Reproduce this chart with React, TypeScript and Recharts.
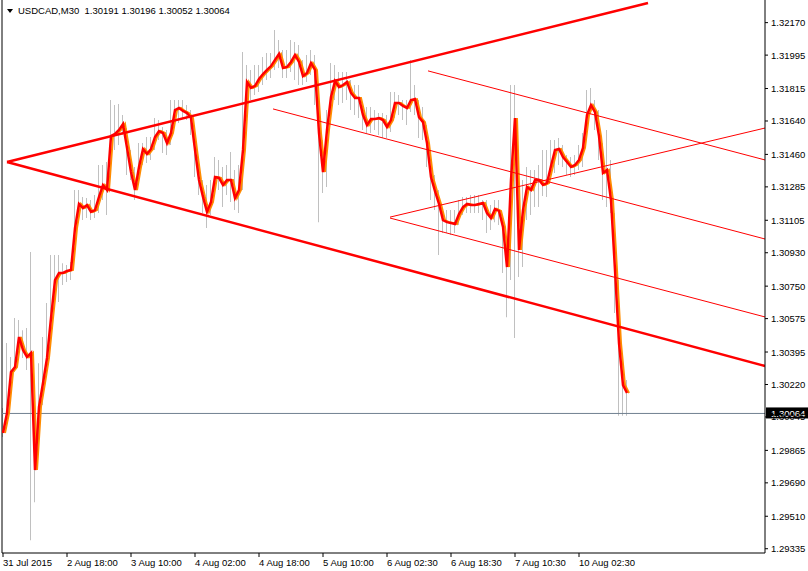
import React from "react";
import { Bar, ComposedChart, Line, ReferenceLine, XAxis, YAxis } from "recharts";

// one sample per hour (every second M30 bar)
const HOUR_TICKS = [0, 16, 32, 48, 64, 80, 96, 112, 128, 144];
const HOUR_LABELS = [
  "31 Jul 2015",
  "2 Aug 18:00",
  "3 Aug 10:00",
  "4 Aug 02:00",
  "4 Aug 18:00",
  "5 Aug 10:00",
  "6 Aug 02:30",
  "6 Aug 18:30",
  "7 Aug 10:30",
  "10 Aug 02:30",
];

const PRICE_TICKS = [
  1.3217, 1.31995, 1.31815, 1.3164, 1.3146, 1.31285, 1.31105, 1.3093, 1.3075,
  1.30575, 1.30395, 1.3022, 1.30045, 1.29865, 1.2969, 1.2951, 1.29335,
];

const CLOSE = [
  1.29959, 1.30066, 1.30287, 1.30314, 1.30476, 1.30406, 1.30368, 1.3039, 1.29759, 1.30099,
  1.30228, 1.30363, 1.30578, 1.30783, 1.30821, 1.30821, 1.30832, 1.30837, 1.31063, 1.31193,
  1.31171, 1.31187, 1.3115, 1.3116, 1.31231, 1.31295, 1.31268, 1.31559, 1.3157, 1.31592,
  1.31624, 1.31495, 1.31365, 1.31268, 1.31392, 1.31489, 1.31462, 1.31489, 1.31554, 1.31586,
  1.31575, 1.31521, 1.31575, 1.31699, 1.3171, 1.31694, 1.31683, 1.31656, 1.31484, 1.31322,
  1.31231, 1.3115, 1.31203, 1.31338, 1.31333, 1.31295, 1.31322, 1.31322, 1.31225, 1.31268,
  1.31484, 1.3185, 1.31818, 1.31829, 1.31866, 1.31893, 1.31915, 1.31936, 1.31969, 1.32001,
  1.31926, 1.31931, 1.31958, 1.31996, 1.31958, 1.31882, 1.31899, 1.31952, 1.31915, 1.31575,
  1.31365, 1.31592, 1.31769, 1.31855, 1.31823, 1.31834, 1.3185, 1.31791, 1.31764, 1.31764,
  1.31672, 1.31618, 1.31651, 1.31651, 1.31656, 1.31645, 1.31608, 1.31645, 1.31737, 1.31737,
  1.31721, 1.3171, 1.31753, 1.31758, 1.31661, 1.31634, 1.31521, 1.31338, 1.31262, 1.31193,
  1.31106, 1.31095, 1.3109, 1.31085, 1.31139, 1.31176, 1.31193, 1.31187, 1.31187, 1.31193,
  1.31198, 1.31144, 1.31117, 1.31166, 1.31155, 1.31069, 1.30853, 1.31322, 1.31656, 1.30945,
  1.3116, 1.31284, 1.31268, 1.31322, 1.31322, 1.31295, 1.31306, 1.31397, 1.31484, 1.31489,
  1.31446, 1.31419, 1.31392, 1.31403, 1.3143, 1.31495, 1.31672, 1.31726, 1.31688, 1.31559,
  1.3136, 1.31376, 1.31214, 1.30837, 1.30443, 1.30217, 1.30174,
];

const HIGH = [
  1.30093, 1.30443, 1.30368, 1.30578, 1.30567, 1.30513, 1.30524, 1.30934, 1.30228, 1.30335,
  1.30476, 1.30659, 1.30918, 1.30918, 1.30918, 1.30874, 1.30864, 1.3088, 1.31268, 1.31268,
  1.31231, 1.31225, 1.31214, 1.31241, 1.31403, 1.31403, 1.31419, 1.31753, 1.31726, 1.31731,
  1.31672, 1.31602, 1.31484, 1.31392, 1.31521, 1.31521, 1.31554, 1.31554, 1.31656, 1.31645,
  1.31608, 1.31592, 1.31753, 1.31753, 1.31753, 1.31753, 1.31726, 1.31699, 1.31592, 1.3143,
  1.31322, 1.31295, 1.31322, 1.31446, 1.3143, 1.31392, 1.31403, 1.31473, 1.31376, 1.31403,
  1.32012, 1.31942, 1.31915, 1.31942, 1.31942, 1.31985, 1.32006, 1.32006, 1.3213, 1.32076,
  1.32023, 1.32023, 1.32076, 1.32066, 1.32049, 1.31969, 1.31996, 1.32023, 1.31996, 1.31823,
  1.31537, 1.31699, 1.31952, 1.31942, 1.31904, 1.31904, 1.31904, 1.31861, 1.31834, 1.31834,
  1.31726, 1.31715, 1.31715, 1.31699, 1.31683, 1.31683, 1.31672, 1.31796, 1.31796, 1.3178,
  1.31753, 1.31753, 1.31969, 1.31834, 1.31753, 1.31715, 1.31618, 1.31392, 1.31349, 1.31268,
  1.3116, 1.3116, 1.3116, 1.3116, 1.31214, 1.31231, 1.31231, 1.31241, 1.31241, 1.31241,
  1.31214, 1.31214, 1.31187, 1.31214, 1.31214, 1.31106, 1.30998, 1.31834, 1.31834, 1.31214,
  1.31322, 1.31392, 1.31376, 1.31376, 1.31403, 1.31484, 1.31484, 1.31537, 1.31537, 1.31548,
  1.3151, 1.31457, 1.31446, 1.31457, 1.3151, 1.31575, 1.31807, 1.31818, 1.31753, 1.31699,
  1.31521, 1.31592, 1.3143, 1.31144, 1.30783, 1.30298, 1.30244,
];

const LOW = [
  1.29937, 1.30028, 1.30244, 1.30287, 1.30406, 1.30363, 1.30298, 1.29381, 1.29586, 1.2992,
  1.30109, 1.30325, 1.30513, 1.30675, 1.30664, 1.30756, 1.30772, 1.30783, 1.30971, 1.31133,
  1.31106, 1.31117, 1.31106, 1.31117, 1.31144, 1.31214, 1.31133, 1.3151, 1.31484, 1.3151,
  1.31564, 1.31349, 1.31322, 1.31214, 1.31295, 1.31403, 1.31413, 1.3143, 1.31484, 1.31537,
  1.31467, 1.31457, 1.3151, 1.31629, 1.31629, 1.31656, 1.31645, 1.31564, 1.31338, 1.31241,
  1.31144, 1.31063, 1.31133, 1.31241, 1.31268, 1.31176, 1.31241, 1.31203, 1.3116, 1.31144,
  1.31268, 1.31753, 1.31753, 1.3178, 1.31796, 1.31834, 1.31861, 1.31872, 1.31915, 1.31926,
  1.31872, 1.31872, 1.31904, 1.31861, 1.31834, 1.31834, 1.3185, 1.31888, 1.31726, 1.31095,
  1.31252, 1.31284, 1.31672, 1.31753, 1.31726, 1.31737, 1.31753, 1.31699, 1.31672, 1.31656,
  1.31592, 1.31575, 1.31575, 1.31592, 1.31564, 1.31548, 1.31548, 1.31581, 1.31656, 1.31672,
  1.31645, 1.31618, 1.31688, 1.31672, 1.31548, 1.31537, 1.31392, 1.31214, 1.3116, 1.30918,
  1.31036, 1.31036, 1.31025, 1.31036, 1.31079, 1.31133, 1.31144, 1.31144, 1.31144, 1.31144,
  1.31106, 1.31036, 1.31052, 1.31095, 1.31079, 1.30821, 1.30583, 1.30783, 1.3047, 1.30799,
  1.30853, 1.31106, 1.31133, 1.31176, 1.31176, 1.31236, 1.31231, 1.31322, 1.3136, 1.31403,
  1.31392, 1.31349, 1.31338, 1.31349, 1.31376, 1.31392, 1.31592, 1.31683, 1.31592, 1.3143,
  1.31214, 1.31176, 1.31144, 1.30605, 1.30052, 1.30052, 1.30052,
];

const LAST_PRICE = 1.30064;
const TITLE = "USDCAD,M30  1.30191 1.30196 1.30052 1.30064";

// hand drawn objects: [hour, price] endpoints
const TRENDLINES = [
  { kind: "channel", from: [1, 1.31419], to: [161.25, 1.32276] },
  { kind: "channel", from: [1, 1.31419], to: [190.5, 1.3032] },
  { kind: "fork", from: [106.25, 1.3191], to: [190.5, 1.3143] },
  { kind: "fork", from: [67.5, 1.31705], to: [190.5, 1.31004] },
  { kind: "fork", from: [96.75, 1.31117], to: [190.5, 1.30584] },
  { kind: "fork", from: [96.75, 1.31122], to: [190.5, 1.31602] },
];

const FONT = "'Liberation Sans', Arial, sans-serif";
const FONT_SIZE = 9.5;

const data = CLOSE.map((close, hour) => ({
  hour,
  close,
  range: [LOW[hour], HIGH[hour]],
}));

function TimeTick({ x, y, index }: any) {
  return (
    <text x={x} y={y} dy={9} fontSize={FONT_SIZE} fontFamily={FONT} fill="#000" textAnchor="start">
      {HOUR_LABELS[index]}
    </text>
  );
}

function PriceTick({ x, y, payload }: any) {
  return (
    <text x={x} y={y} dy={3.5} fontSize={FONT_SIZE} fontFamily={FONT} fill="#000" textAnchor="start">
      {payload.value.toFixed(5)}
    </text>
  );
}

function LastPriceLabel({ viewBox }: any) {
  const x = viewBox.x + viewBox.width + 1;
  return (
    <g>
      <rect x={x} y={viewBox.y - 6} width={42} height={11} fill="#000" />
      <text x={x + 5} y={viewBox.y + 3.5} fontSize={FONT_SIZE} fontFamily={FONT} fill="#fff">
        {LAST_PRICE.toFixed(5)}
      </text>
    </g>
  );
}

export default function App() {
  return (
    <div style={{ position: "absolute", left: 0, top: 0, width: 808, height: 571, background: "#fff" }}>
      <style>{`.lag { transform: translate(2px, 0px); }`}</style>
      <ComposedChart
        width={808}
        height={571}
        data={data}
        margin={{ top: 0, right: 0, bottom: 0, left: 2 }}
      >
        <XAxis
          dataKey="hour"
          type="number"
          domain={[-0.25, 190.5]}
          allowDataOverflow
          ticks={HOUR_TICKS}
          interval={0}
          height={18}
          tickSize={4}
          tickMargin={0}
          stroke="#000"
          tick={<TimeTick />}
        />
        <YAxis
          orientation="right"
          type="number"
          domain={[1.29312, 1.32292]}
          allowDataOverflow
          ticks={PRICE_TICKS}
          interval={0}
          width={43}
          tickSize={3}
          tickMargin={3}
          stroke="#000"
          tick={<PriceTick />}
        />
        <ReferenceLine x={-0.25} stroke="#000" />
        <Bar dataKey="range" barSize={1} fill="#c0c0c0" isAnimationActive={false} />
        <ReferenceLine y={LAST_PRICE} stroke="#708090" label={<LastPriceLabel />} />
        <Line
          className="lag"
          type="linear"
          dataKey="close"
          stroke="#ff8c00"
          strokeWidth={2}
          dot={false}
          isAnimationActive={false}
        />
        <Line
          type="linear"
          dataKey="close"
          stroke="#ff0000"
          strokeWidth={2.5}
          dot={false}
          isAnimationActive={false}
        />
        {TRENDLINES.map((t, i) => (
          <ReferenceLine
            key={i}
            segment={[
              { x: t.from[0], y: t.from[1] },
              { x: t.to[0], y: t.to[1] },
            ]}
            stroke="#ff0000"
            strokeWidth={t.kind === "channel" ? 2.5 : 1}
            ifOverflow="hidden"
          />
        ))}
      </ComposedChart>
      <div
        style={{
          position: "absolute",
          left: 7,
          top: 9,
          width: 0,
          height: 0,
          borderLeft: "3px solid transparent",
          borderRight: "3px solid transparent",
          borderTop: "4px solid #000",
        }}
      />
      <div
        style={{
          position: "absolute",
          left: 18,
          top: 5,
          fontFamily: FONT,
          fontSize: FONT_SIZE,
          color: "#000",
          whiteSpace: "pre",
        }}
      >
        {TITLE}
      </div>
    </div>
  );
}
